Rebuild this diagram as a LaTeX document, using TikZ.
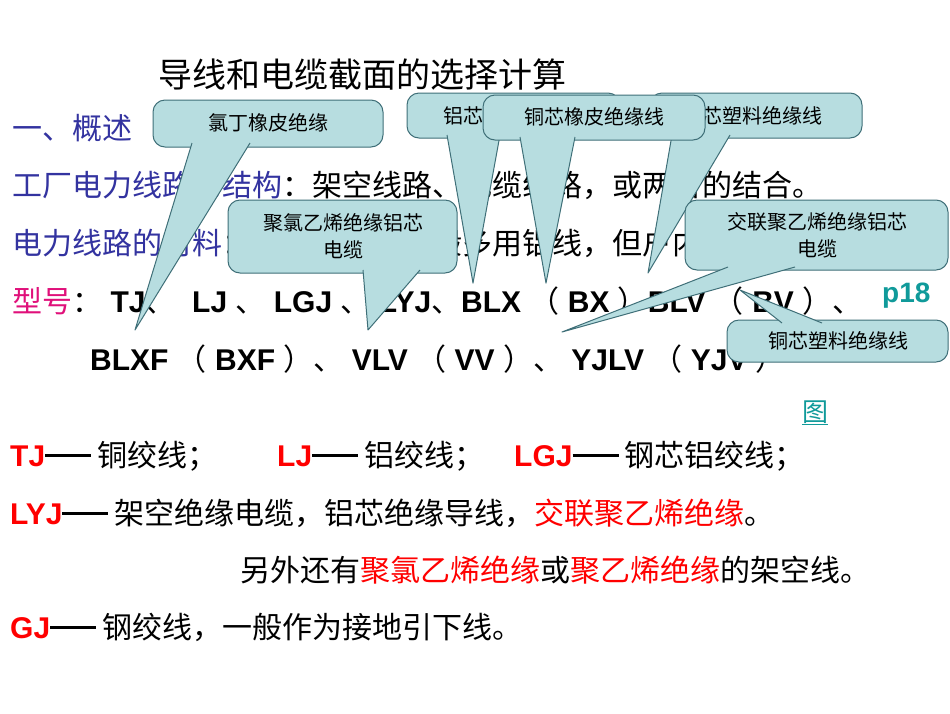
\documentclass[tikz,border=0pt]{standalone}
\usepackage{fontspec}
\setmainfont{Liberation Sans}
\newfontfamily\cjk{Noto Sans CJK SC}
\newfontfamily\cjkc{Noto Sans CJK SC}
\newcommand\zh[1]{{\cjk #1}}
\newcommand\lt[1]{{\bfseries #1}}
\newcommand\dsh{\rule[9pt]{46pt}{2.6pt}\hspace{6pt}}
\definecolor{cfill}{HTML}{B7DDE0}
\definecolor{cline}{HTML}{3F6F78}
\definecolor{tblue}{HTML}{3333A0}
\definecolor{tmag}{HTML}{E0107A}
\definecolor{tred}{HTML}{FF0000}
\definecolor{tteal}{HTML}{109A9A}
\tikzset{body/.style={anchor=base west,inner sep=0,font=\fontsize{30}{32}\selectfont},
 ctext/.style={align=center,font=\cjkc\fontsize{20}{27}\selectfont,inner sep=0},
 cbox/.style={fill=cfill,draw=cline,line width=1pt,rounded corners=12pt}}
% #1 x1 #2 y1 #3 x2 #4 y2 #5 baseL #6 baseR #7 baseY #8 tipX #9 tipY
\newcommand\callout[9]{%
 \filldraw[cbox] (#1,#2) rectangle (#3,#4);
 \fill[cfill] (#5,#7) -- (#8,#9) -- (#6,#7) -- cycle;
 \draw[cline,line width=1pt,line join=round] (#5,#7) -- (#8,#9) -- (#6,#7);}
\begin{document}
\begin{tikzpicture}[x=1pt,y=-1pt]
\useasboundingbox[fill=white] (0,0) rectangle (950,713);
\node[body,anchor=base,font=\fontsize{34}{36}\selectfont] (title) at (362,87) {\zh{导线和电缆截面的选择计算}};
\node[body,text=tblue] (l1) at (12,139) {\zh{一、概述}};
\node[body] (l2) at (12,196) {\zh{\textcolor{tblue}{工厂电力线路的结构}：架空线路、电缆线路，或两者的结合。}};
\node[body] (l3) at (12,254) {\zh{\textcolor{tblue}{电力线路的材料}：导线和电缆一般多用铝线，但户内多用铜线。}};
\node[body] (l4) at (12,312) {\zh{\textcolor{tmag}{型号}：}\lt{ TJ}\zh{、} \lt{ LJ }\zh{、}\lt{ LGJ }\zh{、}\lt{ LYJ}\zh{、}\lt{BLX }\zh{（}\lt{ BX }\zh{）}\lt{BLV }\zh{（}\lt{ BV }\zh{）、}};
\node[body] (l5) at (90,370) {\lt{BLXF }\zh{（}\lt{ BXF }\zh{）、}\lt{ VLV }\zh{（}\lt{ VV }\zh{）、}\lt{ YJLV }\zh{（}\lt{ YJV }\zh{）}};
\node[body,text=tteal,font=\fontsize{28}{30}\selectfont] (p18) at (882,302) {\lt{p18}};
\node[body,text=tteal,anchor=base] (tu) at (815,421) {\cjkc\fontsize{26}{28}\selectfont\underline{图}};
\node[body] (l6) at (10,466) {\textcolor{tred}{\lt{TJ}}\dsh\zh{铜绞线；\qquad}\textcolor{tred}{\lt{LJ}}\dsh\zh{铝绞线；\quad}\textcolor{tred}{\lt{LGJ}}\dsh\zh{钢芯铝绞线；}};
\node[body] (l7) at (10,524) {\textcolor{tred}{\lt{LYJ}}\dsh\zh{架空绝缘电缆，铝芯绝缘导线，\textcolor{tred}{交联聚乙烯绝缘}。}};
\node[body] (l8) at (240,581) {\zh{另外还有\textcolor{tred}{聚氯乙烯绝缘}或\textcolor{tred}{聚乙烯绝缘}的架空线。}};
\node[body] (l9) at (10,638) {\textcolor{tred}{\lt{GJ}}\dsh\zh{钢绞线，一般作为接地引下线。}};
% callouts
\callout{153}{100}{383}{147}{192}{250}{143}{135}{330}
\node[ctext] (c1) at (268,123) {氯丁橡皮绝缘};
\callout{407}{93}{620}{138}{447}{500}{135}{473}{283}
\node[ctext] (c2) at (513,116) {铝芯橡皮绝缘线};
\callout{650}{93}{862}{138}{672}{730}{135}{648}{273}
\node[ctext] (c3) at (752,116) {铝芯塑料绝缘线};
\callout{483}{95}{705}{140}{520}{575}{137}{546}{283}
\node[ctext] (c4) at (594,117) {铜芯橡皮绝缘线};
\callout{228}{200}{457}{273}{363}{420}{270}{368}{330}
\node[ctext] (c5) at (343,236) {聚氯乙烯绝缘铝芯\\电缆};
\callout{685}{200}{948}{270}{728}{795}{267}{562}{332}
\node[ctext] (c6) at (817,235) {交联聚乙烯绝缘铝芯\\电缆};
\callout{727}{320}{948}{362}{782}{822}{323}{740}{290}
\node[ctext] (c7) at (838,341) {铜芯塑料绝缘线};
\end{tikzpicture}
\end{document}
